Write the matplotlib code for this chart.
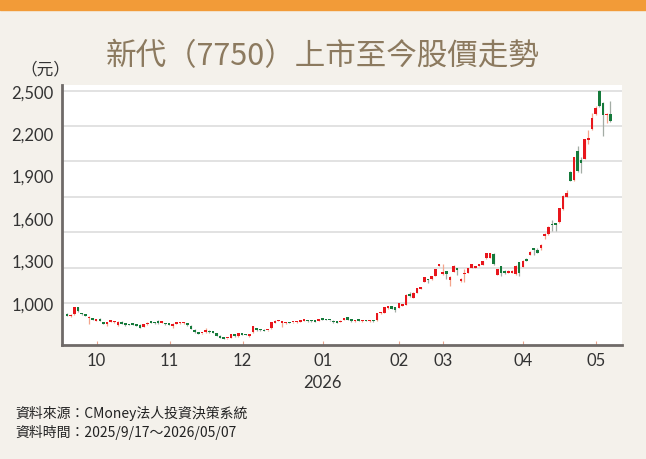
import matplotlib
matplotlib.use('Agg')
import matplotlib.pyplot as plt
from matplotlib.patches import Rectangle
import numpy as np
import pandas as pd

# ---------------- data ----------------
title = '新代（7750）上市至今股價走勢'
unit_label = '（元）'
source_lines = ['資料來源：CMoney法人投資決策系統',
                '資料時間：2025/9/17～2026/05/07']

start_date = '2025-09-17'
end_date = '2026-05-07'
market_holidays = ['2025-09-29', '2025-10-06', '2025-10-10', '2025-10-24',
                   '2025-12-25', '2026-01-01', '2026-02-12', '2026-02-13',
                   '2026-02-16', '2026-02-17', '2026-02-18', '2026-02-19',
                   '2026-02-20', '2026-02-27', '2026-04-03', '2026-04-06',
                   '2026-05-01']

opens = [922, 905, 920, 968, 928, 912, 894, 893, 876, 890,
         866, 852, 868, 864, 842, 868, 856, 846, 853, 848,
         846, 830, 850, 870, 858, 876, 858, 858, 847, 836,
         852, 856, 855, 858, 838, 810, 794, 786, 793, 805,
         792, 786, 770, 758, 749, 752, 781, 766, 780, 776,
         765, 793, 822, 810, 810, 806, 821, 861, 872, 858,
         857, 860, 862, 863, 868, 875, 880, 880, 870, 875,
         883, 881, 880, 875, 871, 866, 882, 898, 887, 871,
         875, 872, 874, 872, 880, 877, 926, 930, 963, 976,
         968, 966, 982, 987, 1055, 1036, 1071, 1102, 1148, 1162,
         1168, 1192, 1264, 1205, 1224, 1160, 1222, 1245, 1155, 1205,
         1212, 1250, 1250, 1262, 1268, 1315, 1318, 1348, 1198, 1258,
         1228, 1215, 1215, 1202, 1288, 1256, 1303, 1340, 1386, 1375,
         1388, 1476, 1488, 1558, 1558, 1572, 1665, 1750, 1928, 1870,
         2077, 2007, 2020, 2148, 2232, 2335, 2500, 2415, 2327, 2335]
highs = [926, 920, 975, 972, 930, 915, 906, 896, 889, 893,
         869, 866, 883, 876, 871, 872, 858, 848, 855, 852,
         849, 853, 864, 873, 862, 880, 873, 861, 850, 855,
         860, 866, 866, 860, 841, 813, 797, 790, 822, 808,
         795, 788, 772, 761, 753, 784, 784, 789, 783, 780,
         784, 838, 825, 813, 813, 810, 866, 878, 880, 874,
         866, 863, 866, 871, 878, 879, 883, 882, 876, 889,
         886, 884, 883, 878, 873, 877, 895, 901, 889, 880,
         878, 879, 877, 879, 882, 931, 934, 972, 980, 980,
         971, 1000, 995, 1060, 1075, 1074, 1106, 1114, 1183, 1170,
         1193, 1243, 1278, 1275, 1228, 1190, 1266, 1248, 1175, 1240,
         1248, 1277, 1256, 1276, 1300, 1356, 1356, 1350, 1242, 1262,
         1232, 1232, 1232, 1268, 1292, 1302, 1318, 1366, 1390, 1390,
         1414, 1495, 1542, 1586, 1565, 1672, 1760, 1795, 1935, 2032,
         2110, 2030, 2162, 2225, 2340, 2390, 2502, 2420, 2345, 2425]
lows = [906, 903, 918, 935, 918, 905, 851, 879, 873, 872,
        849, 838, 865, 860, 838, 849, 838, 841, 843, 836,
        820, 828, 847, 855, 853, 854, 856, 846, 842, 826,
        849, 853, 852, 838, 815, 791, 779, 782, 790, 789,
        786, 767, 751, 743, 745, 749, 763, 763, 773, 771,
        762, 790, 802, 805, 799, 802, 818, 858, 871, 830,
        854, 856, 858, 861, 866, 872, 869, 869, 862, 873,
        879, 877, 876, 861, 855, 863, 880, 880, 868, 868,
        871, 869, 870, 869, 869, 874, 922, 927, 960, 955,
        934, 963, 979, 984, 1045, 1032, 1068, 1098, 1145, 1140,
        1164, 1188, 1262, 1200, 1170, 1122, 1219, 1198, 1150, 1146,
        1209, 1247, 1245, 1258, 1265, 1312, 1315, 1270, 1195, 1190,
        1208, 1212, 1212, 1198, 1190, 1252, 1296, 1337, 1338, 1350,
        1375, 1455, 1483, 1506, 1505, 1568, 1660, 1746, 1860, 1862,
        1925, 1918, 2015, 2120, 2225, 2325, 2385, 2180, 2272, 2280]
closes = [910, 917, 970, 940, 921, 909, 903, 882, 886, 875,
          852, 859, 880, 873, 868, 852, 841, 844, 846, 840,
          826, 850, 861, 858, 856, 858, 870, 849, 845, 852,
          856, 863, 862, 842, 819, 795, 783, 787, 809, 792,
          789, 770, 755, 747, 750, 780, 766, 786, 777, 774,
          781, 835, 806, 808, 802, 807, 863, 875, 877, 870,
          863, 859, 864, 868, 875, 876, 872, 871, 868, 887,
          882, 880, 879, 863, 858, 875, 893, 883, 871, 877,
          874, 876, 873, 876, 872, 928, 930, 968, 976, 958,
          953, 997, 992, 1056, 1052, 1071, 1103, 1111, 1180, 1160,
          1190, 1240, 1274, 1221, 1203, 1186, 1263, 1236, 1172, 1215,
          1245, 1273, 1253, 1270, 1297, 1352, 1352, 1275, 1240, 1215,
          1213, 1228, 1226, 1264, 1212, 1299, 1300, 1362, 1372, 1356,
          1410, 1482, 1538, 1550, 1552, 1668, 1756, 1778, 1865, 2028,
          1932, 1990, 2160, 2165, 2308, 2376, 2390, 2330, 2335, 2287]

y_label_ticks = [1000, 1300, 1600, 1900, 2200, 2500]
grid_levels = [1000, 1250, 1500, 1750, 2000, 2250, 2500]
month_keys = ['2025-10', '2025-11', '2025-12', '2026-01', '2026-02',
              '2026-03', '2026-04', '2026-05']
month_labels = ['10', '11', '12', '01\n2026', '02', '03', '04', '05']

# ---------------- trading calendar ----------------
dates = pd.bdate_range(start_date, end_date)
dates = dates[~dates.isin(pd.to_datetime(market_holidays))]
n = len(closes)
assert len(dates) == n
month_of = dates.strftime('%Y-%m')
month_pos = [int(np.argmax(month_of == k)) - 0.85 for k in month_keys]

# ---------------- figure ----------------
W, H = 646, 460
bg = '#f4f1eb'
fig = plt.figure(figsize=(W / 100, H / 100), dpi=100, facecolor=bg)
fig.add_artist(Rectangle((0, 1 - 11 / H), 1, 11 / H, transform=fig.transFigure,
                         color='#f29b38', zorder=0))

cjk = ['Noto Sans CJK TC', 'DejaVu Sans']
num_font = ['Lato', 'DejaVu Sans']

fig.text(0.499, 1 - 57 / H, title, ha='center', va='center', fontsize=22,
         color='#8c7a5f', fontweight='medium', family=cjk)
fig.text(45 / W, 1 - 70 / H, unit_label, ha='center', va='center',
         fontsize=12, color='#333333', family=cjk)
fig.text(15 / W, 1 - 413 / H, source_lines[0], ha='left', va='center',
         fontsize=10, color='#222222', family=cjk)
fig.text(15 / W, 1 - 432 / H, source_lines[1], ha='left', va='center',
         fontsize=10, color='#222222', family=cjk)

ax = fig.add_axes([62 / W, 1 - 346 / H, 560 / W, 260 / H])
ax.set_facecolor('white')

o = np.array(opens, float)
h = np.array(highs, float)
l = np.array(lows, float)
c = np.array(closes, float)
x = np.arange(n)
up = c >= o
body_col = np.where(up, '#e8161c', '#157a3b')
wick_col = np.where(up, '#f4a58c', '#a3aca5')

for g in grid_levels:
    ax.axhline(g, color='#e2e2e2', lw=1.4, zorder=1)

ax.vlines(x, l, h, colors=wick_col, lw=0.9, zorder=2)
bottom = np.minimum(o, c)
height = np.maximum(np.abs(c - o), 10)
ax.bar(x, height, bottom=bottom, width=0.72, color=body_col, linewidth=0,
       zorder=3)

ax.set_xlim(-1.37, 152.2)
ax.set_ylim(703, 2540)

ax.set_yticks(y_label_ticks)
ax.set_yticklabels([f'{v:,}' for v in y_label_ticks])
ax.set_xticks(month_pos)
ax.set_xticklabels(month_labels)

for lab in ax.get_yticklabels() + ax.get_xticklabels():
    lab.set_fontfamily(num_font)
    lab.set_fontsize(12)
    lab.set_color('#333333')
for lab in ax.get_xticklabels():
    lab.set_linespacing(1.45)

ax.tick_params(axis='y', length=0, pad=6)
ax.tick_params(axis='x', direction='in', length=3, color='#e9a48e', pad=5)

for s in ['top', 'right']:
    ax.spines[s].set_visible(False)
for s in ['left', 'bottom']:
    ax.spines[s].set_color('#6f6a68')
    ax.spines[s].set_linewidth(2)

fig.savefig('out.png', dpi=100, facecolor=bg)
